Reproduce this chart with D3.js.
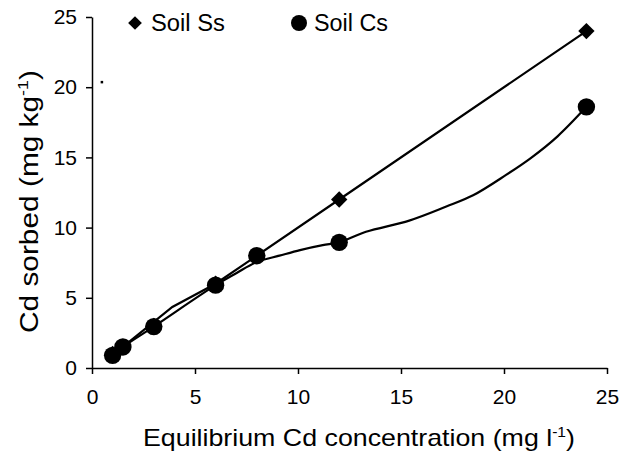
<!DOCTYPE html>
<html>
<head>
<meta charset="utf-8">
<script src="https://d3js.org/d3.v7.min.js"></script>
<style>
  body { margin: 0; background: #fff; }
  svg { display: block; font-family: "Liberation Sans", Arial, sans-serif; }
</style>
</head>
<body>
<svg id="chart"></svg>
<script>
  // Soil Ss (diamonds) and Soil Cs (circles) marker values
  const ssX = [1, 1.5, 3, 6, 8, 12, 24];
  const ssY = [1, 1.5, 3, 6, 8, 12, 24];
  const csX = [1, 1.5, 3, 6, 8, 12, 24];
  const csY = [0.9, 1.5, 2.95, 5.9, 8.0, 8.95, 18.6];

  // lines as drawn in the picture
  const ssLineX = [1, 1.5, 3.9, 6, 8, 12, 24];
  const ssLineY = [0.95, 1.5, 4.35, 6, 8, 12, 24];
  const csCurveX = [1, 1.5, 3, 6, 7, 8, 9.1, 10.1, 11.2, 12, 13.3, 15.4, 17.2, 18.5, 20.1, 21.3, 22.6, 24];
  const csCurveY = [0.9, 1.5, 2.95, 5.9, 6.75, 7.55, 8.0, 8.4, 8.75, 8.95, 9.7, 10.5, 11.5, 12.3, 13.75, 14.95, 16.5, 18.6];

  const xTicks = [0, 5, 10, 15, 20, 25];
  const yTicks = [0, 5, 10, 15, 20, 25];

  const width = 621, height = 453;
  const svg = d3.select("#chart").attr("width", width).attr("height", height);

  const x = d3.scaleLinear().domain([0, 25]).range([92, 607]);
  const y = d3.scaleLinear().domain([0, 25]).range([368, 17]);

  // axes
  const xAxis = svg.append("g")
    .attr("transform", `translate(0,${y(0)})`)
    .call(d3.axisBottom(x).tickValues(xTicks).tickSize(6).tickPadding(15).tickSizeOuter(0));
  const yAxis = svg.append("g")
    .attr("transform", `translate(${x(0)},0)`)
    .call(d3.axisLeft(y).tickValues(yTicks).tickSize(6).tickPadding(9).tickSizeOuter(0));

  [xAxis, yAxis].forEach(g => {
    g.selectAll("path, line").attr("stroke", "#000").attr("stroke-width", 1.5);
    g.selectAll("text").attr("fill", "#000").style("font-size", "21px")
      .style("font-family", "'Liberation Sans', Arial, sans-serif");
  });

  // lines
  const line = d3.line().x(d => x(d[0])).y(d => y(d[1]));
  svg.append("path")
    .datum(d3.zip(ssLineX, ssLineY))
    .attr("d", line)
    .attr("fill", "none").attr("stroke", "#000").attr("stroke-width", 2.2);
  svg.append("path")
    .datum(d3.zip(csCurveX, csCurveY))
    .attr("d", line.curve(d3.curveCatmullRom.alpha(0.5)))
    .attr("fill", "none").attr("stroke", "#000").attr("stroke-width", 2.2);

  // markers
  const diamond = d3.symbol().type(d3.symbolDiamond2).size(170);
  svg.selectAll(".ss")
    .data(d3.zip(ssX, ssY))
    .enter().append("path")
    .attr("class", "ss")
    .attr("d", diamond)
    .attr("transform", d => `translate(${x(d[0])},${y(d[1])})`)
    .attr("fill", "#000");

  svg.selectAll(".cs")
    .data(d3.zip(csX, csY))
    .enter().append("circle")
    .attr("class", "cs")
    .attr("cx", d => x(d[0]))
    .attr("cy", d => y(d[1]))
    .attr("r", 8.7)
    .attr("fill", "#000");

  // stray speck near the 20 tick
  svg.append("rect")
    .attr("x", x(0.42)).attr("y", y(20.45))
    .attr("width", 2.5).attr("height", 2.5)
    .attr("fill", "#000");

  // legend
  svg.append("path")
    .attr("d", d3.symbol().type(d3.symbolDiamond2).size(120))
    .attr("transform", "translate(135,23)")
    .attr("fill", "#000");
  svg.append("text").attr("x", 151).attr("y", 31)
    .attr("textLength", 74).attr("lengthAdjust", "spacingAndGlyphs")
    .style("font-size", "23px").text("Soil Ss");
  svg.append("circle").attr("cx", 299).attr("cy", 23).attr("r", 8).attr("fill", "#000");
  svg.append("text").attr("x", 314).attr("y", 31)
    .attr("textLength", 74).attr("lengthAdjust", "spacingAndGlyphs")
    .style("font-size", "23px").text("Soil Cs");

  // axis titles
  const xTitle = svg.append("text")
    .attr("x", 143).attr("y", 446)
    .attr("textLength", 432).attr("lengthAdjust", "spacingAndGlyphs")
    .style("font-size", "24px");
  xTitle.append("tspan").text("Equilibrium Cd concentration (mg l");
  xTitle.append("tspan").attr("dy", -9).style("font-size", "14px").text("-1");
  xTitle.append("tspan").attr("dy", 9).text(")");

  const yTitle = svg.append("text")
    .attr("transform", "translate(38,333) rotate(-90)")
    .attr("textLength", 263).attr("lengthAdjust", "spacingAndGlyphs")
    .style("font-size", "25px");
  yTitle.append("tspan").text("Cd sorbed (mg kg");
  yTitle.append("tspan").attr("dy", -10).style("font-size", "15px").text("-1");
  yTitle.append("tspan").attr("dy", 10).text(")");
</script>
</body>
</html>
